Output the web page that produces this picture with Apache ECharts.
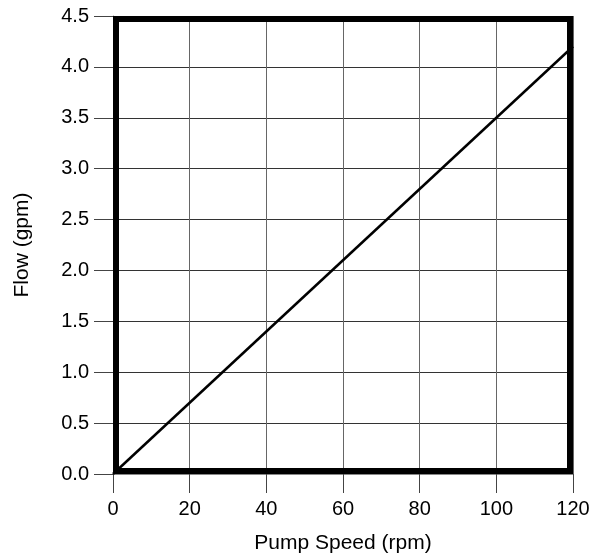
<!DOCTYPE html>
<html>
<head>
<meta charset="utf-8">
<script src="https://cdn.jsdelivr.net/npm/echarts@6/dist/echarts.min.js"></script>
<style>html,body{margin:0;padding:0;background:#fff;}#c{width:594px;height:560px;}</style>
</head>
<body>
<div id="c"></div>
<script>
const xLabelTicks = [0, 20, 40, 60, 80, 100, 120];
const yLabelTicks = [0.0, 0.5, 1.0, 1.5, 2.0, 2.5, 3.0, 3.5, 4.0, 4.5];
const pumpSpeed = [0, 120];
const flow = [0, 4.2];
const xName = 'Pump Speed (rpm)';
const yName = 'Flow (gpm)';

const chart = echarts.init(document.getElementById('c'), null, {renderer: 'canvas'});
const font = 'Liberation Sans';
const option = {
  animation: false,
  backgroundColor: '#fff',
  grid: {left: 113, right: 21, top: 16, bottom: 86, show: false},
  xAxis: {
    type: 'value', min: xLabelTicks[0], max: xLabelTicks[xLabelTicks.length - 1], interval: 20,
    name: xName, nameLocation: 'middle', nameGap: 59,
    nameTextStyle: {color: '#000', fontSize: 21, fontFamily: font},
    axisLine: {show: true, onZero: false, lineStyle: {color: '#888', width: 1}},
    axisTick: {show: true, length: 19, lineStyle: {color: '#444', width: 1}},
    axisLabel: {color: '#000', fontSize: 20, fontFamily: font, margin: 25},
    splitLine: {show: true, lineStyle: {color: '#666', width: 1}}
  },
  yAxis: {
    type: 'value', min: yLabelTicks[0], max: yLabelTicks[yLabelTicks.length - 1], interval: 0.5,
    name: yName, nameLocation: 'middle', nameGap: 80,
    nameTextStyle: {color: '#000', fontSize: 21, fontFamily: font},
    axisLine: {show: true, onZero: false, lineStyle: {color: '#888', width: 1}},
    axisTick: {show: true, length: 19, lineStyle: {color: '#444', width: 1}},
    axisLabel: {color: '#000', fontSize: 20, fontFamily: font, margin: 24,
      formatter: v => v.toFixed(1)},
    splitLine: {show: true, lineStyle: {color: '#333', width: 1}}
  },
  series: [{
    type: 'line', data: pumpSpeed.map((x, i) => [x, flow[i]]),
    showSymbol: false, symbol: 'none',
    lineStyle: {color: '#000', width: 2.5}, clip: true, z: 3
  }]
};
chart.setOption(option);
const tl = chart.convertToPixel({gridIndex: 0}, [xLabelTicks[0], yLabelTicks[yLabelTicks.length - 1]]);
const br = chart.convertToPixel({gridIndex: 0}, [xLabelTicks[xLabelTicks.length - 1], yLabelTicks[0]]);
const bw = 6;
chart.setOption({
  graphic: [{
    type: 'rect', z: 100,
    shape: {x: tl[0] + bw / 2, y: tl[1] + bw / 2, width: br[0] - tl[0] - bw, height: br[1] - tl[1] - bw},
    style: {fill: 'none', stroke: '#000', lineWidth: bw}
  }]
});
</script>
</body>
</html>
